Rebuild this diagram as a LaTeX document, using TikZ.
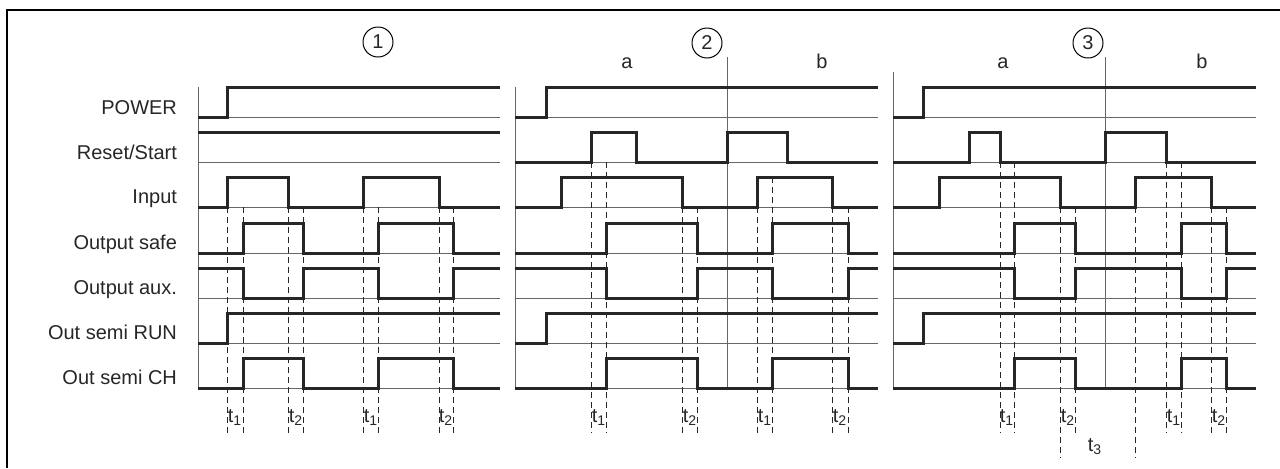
\documentclass[tikz,border=0pt]{standalone}
\usepackage{fontspec}
\setmainfont{Liberation Sans}

\begin{document}
\begin{tikzpicture}[x=0.5pt,y=-0.5pt,
    sig/.style={line width=1.5pt,black!85},
    base/.style={line width=0.5pt,black!60},
    tick/.style={line width=0.5pt,black!85,dash pattern=on 3pt off 2pt},
    lab/.style={anchor=base east,text=black!85},
    tlab/.style={anchor=base,text=black!85,inner sep=0pt},
    num/.style={draw,circle,line width=0.5pt,minimum size=15pt,inner sep=0pt,text=black!85}]
    \useasboundingbox (0,0) rectangle (1280,468);
    \draw[line width=0.6pt] (1280,10) -- (7,10) -- (7,468);
    % signal names
    \node[lab] (power) at (184,114) {POWER};
    \node[lab] (reset) at (184,159) {Reset/Start};
    \node[lab] (input) at (184,203) {Input};
    \node[lab] (safe) at (184,249) {Output safe};
    \node[lab] (aux) at (184,294) {Output aux.};
    \node[lab] (run) at (184,339) {Out semi RUN};
    \node[lab] (ch) at (184,384) {Out semi CH};
    % the three cases
    \node[num] (case1) at (378,42) {1};
    \node[num] (case2) at (707,43) {2};
    \node[num] (case3) at (1088,43) {3};
    \node[anchor=base,text=black!85] (a2) at (627,68) {a};
    \node[anchor=base,text=black!85] (b2) at (822,68) {b};
    \node[anchor=base,text=black!85] (a3) at (1003,68) {a};
    \node[anchor=base,text=black!85] (b3) at (1202,68) {b};
    \draw[base] (198,87) -- (198,388);
    \draw[base] (515,87) -- (515,388);
    \draw[base] (893,72) -- (893,388);
    \draw[base] (727,57) -- (727,388);
    \draw[base] (1105,57) -- (1105,388);
    % waveforms, one panel per pass
    \foreach \L/\R/\p/\a/\b/\c/\d/\e/\f/\g/\h in {198/500/227/243/303/378/453/227/288/363/439,
        515/878/546/606/697/772/848/561/682/757/832,
        893/1256/923/1014/1075/1181/1226/939/1060/1135/1211}{
      \foreach \y in {117,162,207,253,298,343,388} \draw[base] (\L,\y) -- (\R,\y);
      \draw[sig] (\L,117) -| (\p,87) -- (\R,87);
      \draw[sig] (\L,207) -| (\e,177) -| (\f,207) -| (\g,177) -| (\h,207) -- (\R,207);
      \draw[sig] (\L,253) -| (\a,223) -| (\b,253) -| (\c,223) -| (\d,253) -- (\R,253);
      \draw[sig] (\L,268) -| (\a,298) -| (\b,268) -| (\c,298) -| (\d,268) -- (\R,268);
      \draw[sig] (\L,343) -| (\p,313) -- (\R,313);
      \draw[sig] (\L,388) -| (\a,358) -| (\b,388) -| (\c,358) -| (\d,388) -- (\R,388);
    }
    \draw[sig] (198,132) -- (500,132);
    \draw[sig] (515,162) -| (591,132) -| (636,162) -| (727,132) -| (787,162) -- (878,162);
    \draw[sig] (893,162) -| (969,132) -| (1000,162) -| (1105,132) -| (1166,162) -- (1256,162);
    % time marks
    \foreach \x/\t in {227/207,243/207,288/207,303/207,363/207,378/207,439/207,453/207,
        591/162,606/162,682/207,697/207,757/207,772/177,832/207,848/207,
        1000/162,1014/162,1075/207,1166/162,1181/162,1211/207,1226/207}
      \draw[tick] (\x,\t) -- (\x,433);
    \draw[tick] (1060,207) -- (1060,458);
    \draw[tick] (1135,207) -- (1135,458);
    \foreach \x/\s in {235/1,296/2,371/1,446/2,599/1,690/2,765/1,840/2,1007/1,1068/2,1174/1,1219/2}
      \node[tlab] (t\x) at (\x,422) {t\textsubscript{\s}};
    \node[tlab] (t3) at (1095,451) {t\textsubscript{3}};
  \end{tikzpicture}
\end{document}
